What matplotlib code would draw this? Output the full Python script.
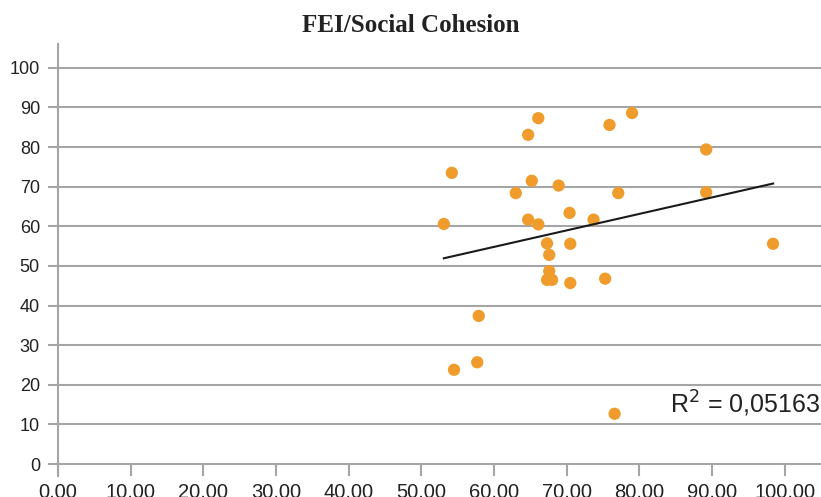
import matplotlib.pyplot as plt
import numpy as np
from matplotlib.ticker import FuncFormatter

# FEI (x) vs Social Cohesion (y)
fei = [53.1, 54.2, 54.5, 57.7, 57.9, 63.0, 64.7, 64.7, 65.2, 66.1,
       66.1, 67.3, 67.6, 67.6, 67.3, 68.0, 68.9, 70.4, 70.5, 70.5,
       73.7, 75.3, 75.9, 76.6, 77.1, 79.0, 89.2, 89.2, 98.4]
cohesion = [60.6, 73.5, 23.8, 25.7, 37.4, 68.4, 83.1, 61.7, 71.5, 87.3,
            60.5, 55.7, 52.8, 48.7, 46.5, 46.5, 70.3, 63.4, 55.6, 45.7,
            61.7, 46.8, 85.6, 12.7, 68.4, 88.6, 79.4, 68.6, 55.6]
r2_label = "R$^2$ = 0,05163"
title = "FEI/Social Cohesion"

grey = "#a5a5a8"
orange = "#ef9c2d"

fig = plt.figure(figsize=(8.21, 4.97), dpi=100)
ax = fig.add_axes([0.0706, 0.0423, 0.9294, 0.869])

# horizontal grid
for v in range(10, 101, 10):
    ax.axhline(v, color=grey, lw=1.5, zorder=1)

ax.scatter(fei, cohesion, s=78, color=orange, edgecolors="none", zorder=3)

# linear trend line
slope, icpt = np.polyfit(fei, cohesion, 1)
xs = np.array([min(fei), max(fei)])
ax.plot(xs, slope * xs + icpt, color="#1a1a1a", lw=1.5, zorder=4)

ax.set_xlim(0, 105)
ax.set_ylim(-3, 106)
ax.set_xticks(range(0, 101, 10))
ax.set_yticks(range(0, 101, 10))
ax.xaxis.set_major_formatter(FuncFormatter(lambda v, p: f"{v:.2f}".replace(".", ",")))

for s in ["top", "right"]:
    ax.spines[s].set_visible(False)
ax.spines["bottom"].set_position(("data", 0))
for s in ["left", "bottom"]:
    ax.spines[s].set_color(grey)
    ax.spines[s].set_linewidth(1.5)

ax.tick_params(axis="y", length=7, width=1.5, color=grey, pad=6,
               labelsize=13, labelcolor="#222222")
ax.tick_params(axis="x", length=8.5, width=1.5, color=grey, pad=4.5,
               labelsize=14.5, labelcolor="#222222")
for lab in ax.get_xticklabels() + ax.get_yticklabels():
    lab.set_family("Liberation Sans")

fig.text(0.5, 0.948, title, ha="center", va="center", fontsize=18,
         fontweight="bold", family="Liberation Serif", color="#222222")
fig.text(0.999, 0.169, r2_label, ha="right", va="baseline", fontsize=18,
         family="Liberation Sans", color="#222222")

fig.savefig("out.png", dpi=100)
